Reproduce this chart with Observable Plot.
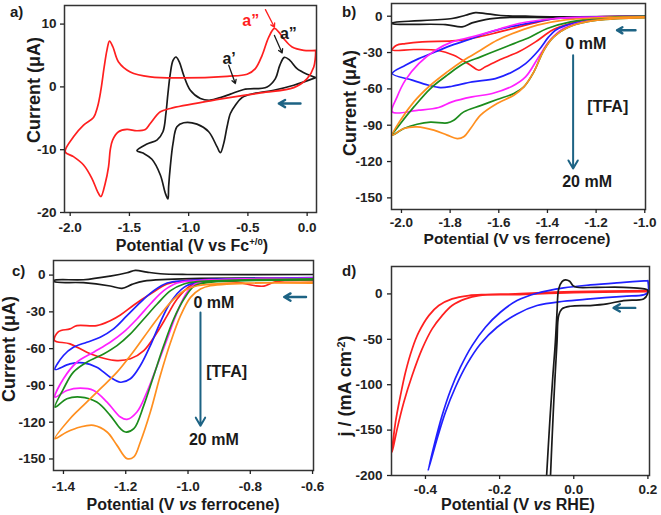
<!DOCTYPE html>
<html>
<head>
<meta charset="utf-8">
<script src="https://cdn.jsdelivr.net/npm/d3@7"></script>
<script src="https://cdn.jsdelivr.net/npm/@observablehq/plot@0.6"></script>
<style>
  body { margin: 0; background: #fff; }
  #fig { position: relative; width: 661px; height: 515px; overflow: hidden; background: #fff; }
  #fig svg { position: absolute; overflow: visible; }
</style>
</head>
<body>
<div id="fig"></div>
<script>
// ---------- Panel a: CVs vs Fc+/0 (potential V, current µA) ----------
const aXTicks = [-2.0, -1.5, -1.0, -0.5, 0.0];
const aYTicks = [10, 0, -10, -20];
const aRed = [[0.073,5.82],[0.056,3.17],[0.0,1.32],[-0.113,-0.11],[-0.394,-0.95],[-0.817,-2.22],[-1.155,-3.44],[-1.239,-3.97],[-1.324,-5.82],[-1.366,-6.77],[-1.437,-6.98],[-1.521,-6.77],[-1.592,-7.14],[-1.642,-8.47],[-1.662,-10.05],[-1.676,-12.7],[-1.704,-15.34],[-1.741,-17.46],[-1.769,-16.67],[-1.817,-14.55],[-1.887,-12.43],[-1.972,-11.11],[-2.042,-10.32],[-1.972,-7.94],[-1.887,-6.08],[-1.803,-4.87],[-1.769,-3.17],[-1.741,-0.53],[-1.713,3.17],[-1.690,5.82],[-1.668,7.30],[-1.639,6.35],[-1.592,3.97],[-1.493,2.38],[-1.324,1.59],[-1.042,1.43],[-0.676,1.69],[-0.507,2.01],[-0.437,2.91],[-0.380,5.03],[-0.324,7.94],[-0.276,9.31],[-0.239,8.73],[-0.197,7.67],[-0.127,6.35],[-0.028,5.82],[0.073,5.82]];
const aBlack = [[0.073,1.48],[-0.113,0.26],[-0.282,-0.53],[-0.451,-1.06],[-0.549,-1.69],[-0.606,-2.91],[-0.648,-4.23],[-0.676,-6.35],[-0.704,-8.99],[-0.732,-10.48],[-0.761,-9.52],[-0.831,-7.14],[-0.930,-5.93],[-1.042,-5.71],[-1.099,-6.35],[-1.132,-8.99],[-1.155,-12.70],[-1.169,-15.87],[-1.175,-17.83],[-1.197,-16.93],[-1.239,-14.02],[-1.310,-11.53],[-1.380,-10.58],[-1.437,-10.16],[-1.352,-9.10],[-1.268,-8.47],[-1.217,-7.14],[-1.192,-4.23],[-1.175,-1.06],[-1.155,2.12],[-1.132,4.23],[-1.107,4.76],[-1.079,3.97],[-1.042,1.85],[-0.986,-0.53],[-0.901,-1.85],[-0.817,-2.12],[-0.732,-1.69],[-0.648,-1.16],[-0.535,-0.42],[-0.338,0.0],[-0.268,1.32],[-0.231,3.44],[-0.192,4.71],[-0.146,4.23],[-0.085,2.91],[0.0,2.01],[0.073,1.48]];
const aArrows = [
  {x1: -0.056, y1: -2.65, x2: -0.239, y2: -2.65, color: "#1d6384", w: 2.4, head: 6},
  {x1: -0.662, y1: 3.44, x2: -0.606, y2: 0.53, color: "#1a1a1a", w: 1.3, head: 5},
  {x1: -0.276, y1: 8.2, x2: -0.211, y2: 5.4, color: "#1a1a1a", w: 1.3, head: 5},
  {x1: -0.352, y1: 12.3, x2: -0.276, y2: 9.5, color: "#ff1f1f", w: 1.3, head: 5}
];
const aNotes = [
  {x: -0.476, y: 10.58, label: "a”", color: "#ff1f1f", size: 16},
  {x: -0.158, y: 8.47, label: "a”", color: "#1a1a1a", size: 16},
  {x: -0.659, y: 4.5, label: "a’", color: "#1a1a1a", size: 16}
];

// ---------- Panel b: CVs with added TFA (-2.04 to -1.0 V) ----------
const bXTicks = [-2.0, -1.8, -1.6, -1.4, -1.2, -1.0];
const bYTicks = [0, -30, -60, -90, -120, -150];
const bBlack = [[-0.997,-0.55],[-1.367,-1.1],[-1.573,-1.1],[-1.655,-2.75],[-1.710,-5.5],[-1.751,-8.8],[-1.819,-6.9],[-2.038,-6.05],[-2.038,-5.5],[-1.792,-1.9],[-1.737,0.8],[-1.696,3.0],[-1.655,2.2],[-1.600,0.8],[-1.490,0],[-1.367,-0.55],[-0.997,0]];
const bRed = [[-0.997,-0.6],[-1.25,-3.5],[-1.33,-7.5],[-1.381,-11.6],[-1.449,-21.2],[-1.518,-29.4],[-1.6,-36.3],[-1.655,-41.8],[-1.682,-44.6],[-1.716,-40.5],[-1.785,-32.2],[-1.853,-28.1],[-1.949,-27.5],[-2.038,-27.8],[-2.02,-24],[-1.984,-22.6],[-1.915,-21.2],[-1.792,-20.4],[-1.737,-19.3],[-1.682,-17.1],[-1.614,-13.8],[-1.518,-8.8],[-1.436,-4.7],[-1.367,-1.9],[-1.2,-0.5],[-0.997,0]];
const bBlue = [[-0.997,-0.6],[-1.25,-4],[-1.33,-8],[-1.367,-11.6],[-1.395,-17.1],[-1.436,-28.1],[-1.490,-39.1],[-1.545,-46],[-1.614,-51.5],[-1.710,-54.2],[-1.792,-57.8],[-1.840,-58.9],[-1.888,-57.0],[-1.956,-52.8],[-2.038,-47.3],[-1.984,-40.5],[-1.929,-35.0],[-1.860,-29.4],[-1.792,-23.9],[-1.710,-18.4],[-1.655,-14.3],[-1.586,-10.2],[-1.518,-7.4],[-1.449,-4.7],[-1.367,-1.9],[-1.2,-0.6],[-0.997,0]];
const bMagenta = [[-0.997,-0.6],[-1.223,-3.3],[-1.333,-10],[-1.39,-20],[-1.436,-33.6],[-1.49,-50.1],[-1.545,-57.8],[-1.627,-63.8],[-1.710,-66.6],[-1.792,-70.7],[-1.847,-75.4],[-1.929,-77.6],[-2.038,-79.0],[-2.018,-66.6],[-1.984,-52.8],[-1.929,-39.1],[-1.860,-28.1],[-1.792,-21.2],[-1.710,-17.1],[-1.614,-11.6],[-1.518,-6.05],[-1.367,-1.9],[-1.2,-0.8],[-0.997,0]];
const bGreen = [[-0.997,-1.1],[-1.196,-3.3],[-1.305,-8.3],[-1.374,-17.1],[-1.415,-28.1],[-1.456,-46.0],[-1.497,-58.3],[-1.538,-63.8],[-1.607,-68.8],[-1.675,-73.8],[-1.744,-79.0],[-1.785,-85.9],[-1.812,-88.1],[-1.881,-87.5],[-1.936,-89.2],[-1.990,-92.7],[-2.038,-98.2],[-2.004,-88.6],[-1.949,-74.9],[-1.881,-59.7],[-1.812,-48.7],[-1.744,-39.1],[-1.675,-33.6],[-1.607,-28.1],[-1.538,-22.6],[-1.470,-17.1],[-1.401,-10.2],[-1.305,-4.7],[-1.15,-1],[-0.997,0]];
const bOrange = [[-0.997,-1.1],[-1.196,-3.3],[-1.305,-8.3],[-1.374,-17.1],[-1.415,-28.1],[-1.456,-46.0],[-1.497,-58.3],[-1.538,-65.2],[-1.607,-72.1],[-1.675,-81.7],[-1.716,-92.7],[-1.744,-99.6],[-1.771,-101],[-1.812,-98.2],[-1.867,-94.1],[-1.936,-91.4],[-1.990,-92.7],[-2.038,-98.2],[-2.004,-85.9],[-1.949,-70.7],[-1.881,-57.0],[-1.812,-46.0],[-1.744,-36.3],[-1.675,-28.1],[-1.607,-19.8],[-1.525,-12.9],[-1.442,-7.4],[-1.333,-3.3],[-1.15,-1],[-0.997,-0.5]];
const bArrows = [
  {x1: -1.038, y1: -11.6, x2: -1.114, y2: -11.6, color: "#1d6384", w: 2.4, head: 6},
  {x1: -1.2945, y1: -32.2, x2: -1.2945, y2: -125.8, color: "#1d6384", w: 2, head: 7}
];
const bNotes = [
  {x: -1.2425, y: -22.6, label: "0 mM", color: "#1a1a1a", size: 16},
  {x: -1.152, y: -74.9, label: "[TFA]", color: "#1a1a1a", size: 16},
  {x: -1.237, y: -136.5, label: "20 mM", color: "#1a1a1a", size: 16}
];

// ---------- Panel c: CVs with added TFA (-1.43 to -0.6 V) ----------
const cXTicks = [-1.4, -1.2, -1.0, -0.8, -0.6];
const cYTicks = [0, -30, -60, -90, -120, -150];
const cBlack = [[-0.6,-2.7],[-0.96,-2.7],[-1.067,-3.5],[-1.142,-4.9],[-1.180,-7.6],[-1.212,-10.8],[-1.250,-8.9],[-1.336,-6.2],[-1.429,-5.4],[-1.429,-4.3],[-1.336,-3.8],[-1.250,-0.8],[-1.196,1.9],[-1.169,3.8],[-1.132,2.4],[-1.089,1.1],[-1.003,0.5],[-0.6,0.5]];
const cRed = [[-0.6,-4.5],[-0.72,-5.5],[-0.756,-9.0],[-0.788,-8.5],[-0.852,-5.5],[-0.96,-6.0],[-0.992,-8.7],[-1.035,-19.5],[-1.067,-33.1],[-1.099,-46.6],[-1.142,-61.6],[-1.185,-68.3],[-1.228,-69.7],[-1.271,-67.8],[-1.325,-62.9],[-1.379,-56.1],[-1.429,-53.2],[-1.416,-46.1],[-1.379,-43.9],[-1.357,-41.2],[-1.293,-41.2],[-1.250,-37.2],[-1.217,-32.5],[-1.174,-24.4],[-1.121,-15.5],[-1.067,-7.3],[-1.013,-4.6],[-0.96,-3.8],[-0.6,-3.0]];
const cBlue = [[-0.6,-3.0],[-0.970,-6.0],[-1.013,-10.0],[-1.056,-22.2],[-1.089,-38.5],[-1.121,-57.5],[-1.153,-73.8],[-1.185,-84.6],[-1.217,-87.4],[-1.250,-83.3],[-1.293,-75.1],[-1.336,-71.6],[-1.379,-72.4],[-1.427,-77.0],[-1.400,-65.6],[-1.368,-58.9],[-1.325,-54.8],[-1.282,-50.7],[-1.239,-43.9],[-1.196,-33.1],[-1.153,-22.2],[-1.110,-12.7],[-1.067,-6.5],[-1.013,-4.6],[-0.6,-2.0]];
const cMagenta = [[-0.6,-3.5],[-0.970,-6.5],[-1.003,-14.1],[-1.035,-30.4],[-1.067,-52.1],[-1.099,-73.8],[-1.132,-95.5],[-1.164,-111.7],[-1.196,-117.7],[-1.217,-115.8],[-1.260,-103.6],[-1.303,-94.1],[-1.346,-92.2],[-1.389,-94.1],[-1.427,-99.5],[-1.400,-84.6],[-1.357,-71.1],[-1.303,-62.9],[-1.250,-54.8],[-1.207,-46.6],[-1.164,-35.8],[-1.121,-23.6],[-1.078,-12.7],[-1.035,-6.5],[-0.981,-4.6],[-0.6,-2.5]];
const cGreen = [[-0.6,-4.0],[-0.949,-6.5],[-0.981,-9.2],[-1.013,-19.5],[-1.046,-35.8],[-1.078,-57.5],[-1.110,-81.9],[-1.142,-106.3],[-1.174,-125.3],[-1.201,-128.0],[-1.217,-125.3],[-1.250,-114.4],[-1.293,-103.6],[-1.346,-99.5],[-1.389,-100.9],[-1.427,-107.7],[-1.400,-92.8],[-1.368,-79.2],[-1.325,-71.1],[-1.271,-64.3],[-1.228,-57.5],[-1.185,-48.0],[-1.142,-35.8],[-1.099,-23.6],[-1.056,-12.7],[-1.013,-7.3],[-0.970,-5.4],[-0.6,-3.0]];
const cOrange = [[-0.6,-6.0],[-0.928,-8.7],[-0.960,-11.4],[-0.992,-18.2],[-1.024,-33.1],[-1.056,-54.8],[-1.089,-81.9],[-1.121,-111.7],[-1.153,-136.1],[-1.174,-148.3],[-1.196,-149.7],[-1.228,-138.9],[-1.260,-128.0],[-1.303,-122.6],[-1.346,-123.9],[-1.389,-128.0],[-1.427,-133.4],[-1.379,-117.2],[-1.336,-106.3],[-1.282,-92.8],[-1.228,-79.2],[-1.185,-65.6],[-1.142,-50.7],[-1.099,-35.8],[-1.056,-22.2],[-1.013,-12.7],[-0.970,-8.7],[-0.6,-6.5]];
const cArrows = [
  {x1: -0.621, y1: -17.9, x2: -0.691, y2: -17.9, color: "#1d6384", w: 2.4, head: 6},
  {x1: -0.960, y1: -30.6, x2: -0.960, y2: -122.9, color: "#1d6384", w: 2, head: 7}
];
const cNotes = [
  {x: -0.917, y: -22.8, label: "0 mM", color: "#1a1a1a", size: 16},
  {x: -0.876, y: -78.6, label: "[TFA]", color: "#1a1a1a", size: 16},
  {x: -0.917, y: -134.5, label: "20 mM", color: "#1a1a1a", size: 16}
];

// ---------- Panel d: polarisation curves vs RHE (j, mA cm-2) ----------
const dXTicks = [-0.4, -0.2, 0.0, 0.2];
const dYTicks = [0, -50, -100, -150, -200];
const dRed = [[0.2,3.7],[0.0,2.5],[-0.1,1.2],[-0.1575,0],[-0.2383,-0.7],[-0.2832,-1.8],[-0.3281,-5.5],[-0.3641,-12.8],[-0.3910,-23.9],[-0.4180,-42.2],[-0.4359,-60.6],[-0.4539,-86.2],[-0.4674,-111.9],[-0.4808,-141.3],[-0.4898,-174.3],[-0.4763,-148.6],[-0.4584,-119.3],[-0.4359,-89.9],[-0.4090,-60.6],[-0.3820,-38.5],[-0.3551,-23.9],[-0.3281,-12.8],[-0.2922,-5.5],[-0.2563,-1.8],[-0.1575,-0.7],[0.0,1.5],[0.2,2.5]];
const dBlue = [[0.2,14.7],[0.1344,12.8],[0.0446,9.9],[-0.0272,6.6],[-0.0991,0.7],[-0.1530,-7.3],[-0.1979,-20.2],[-0.2383,-36.7],[-0.2742,-56.9],[-0.3057,-80.7],[-0.3326,-106.4],[-0.3551,-134.0],[-0.3757,-165.2],[-0.3928,-194.5],[-0.3686,-159.6],[-0.3461,-130.3],[-0.3192,-102.8],[-0.2877,-77.1],[-0.2518,-55.1],[-0.2069,-36.7],[-0.1530,-22.0],[-0.0991,-12.8],[-0.0272,-8.1],[0.0446,-5.5],[0.1344,-2.6],[0.188,-1.1],[0.2,1.8],[0.2,14.7]];
const dBlack = [[-0.0739,-205],[-0.0650,-143.1],[-0.0560,-88.1],[-0.0497,-53.2],[-0.0452,-20.2],[-0.0407,5.5],[-0.0317,13.6],[-0.0227,15.4],[-0.0111,13.9],[-0.0021,9.2],[0.0087,7.3],[0.0626,7.3],[0.1344,7.3],[0.1794,6.2],[0.1991,4.4],[0.1991,0],[0.1883,-5.5],[0.1344,-7.3],[0.0895,-11.0],[0.0446,-12.8],[-0.0093,-13.6],[-0.0317,-16.5],[-0.0407,-23.9],[-0.0452,-53.2],[-0.0524,-106.4],[-0.0587,-161.5],[-0.0632,-205]];
const dArrows = [
  {x1: 0.1659, y1: -15.4, x2: 0.1075, y2: -15.4, color: "#1d6384", w: 2.4, head: 6}
];

const RED = "#ff1f1f", BLUE = "#2020ff", MAGENTA = "#ff20ff", GREEN = "#1c8c1c", ORANGE = "#ff8f1f", BLACK = "#1a1a1a";
const FONT = '"Liberation Sans", Arial, Helvetica, sans-serif';
const fig = document.getElementById("fig");

function panel(cfg) {
  const marks = [
    ...cfg.curves.map(([pts, color]) => Plot.line(pts, {
      x: d => d[0], y: d => d[1], stroke: color, strokeWidth: 1.7,
      curve: "catmull-rom", clip: true
    })),
    ...cfg.arrows.map(a => Plot.arrow([a], {
      x1: "x1", y1: "y1", x2: "x2", y2: "y2",
      stroke: a.color, strokeWidth: a.w, headLength: a.head
    })),
    ...cfg.notes.map(n => Plot.text([n], {
      x: "x", y: "y", text: "label", fill: n.color, fontSize: n.size,
      fontWeight: "bold", fontFamily: FONT
    })),
    Plot.frame({stroke: "#333", strokeWidth: 1.5}),
    Plot.axisX({ticks: cfg.xTicks, tickFormat: d => d.toFixed(1), tickSize: 4,
      tickPadding: cfg.xPad, label: null, strokeWidth: 1.3}),
    Plot.axisY({ticks: cfg.yTicks, tickFormat: d => String(d), tickSize: 4,
      tickPadding: cfg.yPad, label: null, strokeWidth: 1.3})
  ];
  const svg = Plot.plot({
    width: cfg.width, height: cfg.height,
    marginLeft: cfg.m[0], marginTop: cfg.m[1], marginRight: cfg.m[2], marginBottom: cfg.m[3],
    x: {domain: cfg.xDomain},
    y: {domain: cfg.yDomain},
    style: {fontFamily: FONT, fontSize: "13.5px", fontWeight: "bold", color: "#222", background: "transparent"},
    marks
  });
  svg.style.left = cfg.left + "px";
  svg.style.top = cfg.top + "px";
  fig.appendChild(svg);

  // axis titles and panel letter, with superscripts and italics
  const sel = d3.select(svg);
  for (const t of cfg.titles) {
    const text = sel.append("text")
      .attr("transform", `translate(${t.x},${t.y}) rotate(${t.rot || 0})`)
      .attr("text-anchor", t.anchor || "middle")
      .attr("font-family", FONT).attr("font-weight", "bold")
      .attr("font-size", t.size).attr("fill", "#1a1a1a");
    let shift = 0;
    for (const p of t.parts) {
      const s = text.append("tspan").text(p.t);
      if (p.i) s.attr("font-style", "italic");
      if (p.sup) {
        s.attr("font-size", t.size * 0.6).attr("dy", -t.size * 0.36 - shift);
        shift = -t.size * 0.36;
      } else if (shift !== 0) {
        s.attr("dy", -shift);
        shift = 0;
      }
    }
  }
}

panel({
  left: 0, top: 0, width: 330, height: 257, m: [64, 5, 14, 45],
  xDomain: [-2.048, 0.079], yDomain: [-20, 12.96],
  xTicks: aXTicks, yTicks: aYTicks, xPad: 6, yPad: 4,
  curves: [[aBlack, BLACK], [aRed, RED]],
  arrows: aArrows, notes: aNotes,
  titles: [
    {x: 10, y: 17, size: 15, anchor: "start", parts: [{t: "a)"}]},
    {x: 40, y: 90, rot: -90, size: 18, parts: [{t: "Current (μA)"}]},
    {x: 192, y: 251, size: 16, parts: [{t: "Potential (V vs Fc"}, {t: "+/0", sup: true}, {t: ")"}]}
  ]
});

panel({
  left: 330, top: 0, width: 331, height: 257, m: [61, 3, 16, 48],
  xDomain: [-2.041, -0.997], yDomain: [-159.6, 10.5],
  xTicks: bXTicks, yTicks: bYTicks, xPad: 4, yPad: 5,
  curves: [[bBlack, BLACK], [bRed, RED], [bBlue, BLUE], [bMagenta, MAGENTA], [bGreen, GREEN], [bOrange, ORANGE]],
  arrows: bArrows, notes: bNotes,
  titles: [
    {x: 12, y: 17, size: 15, anchor: "start", parts: [{t: "b)"}]},
    {x: 26, y: 103, rot: -90, size: 18, parts: [{t: "Current (μA)"}]},
    {x: 187, y: 244, size: 15.5, parts: [{t: "Potential (V vs ferrocene)"}]}
  ]
});

panel({
  left: 0, top: 257, width: 330, height: 258, m: [53, 3, 17, 45],
  xDomain: [-1.432, -0.597], yDomain: [-159.4, 11.9],
  xTicks: cXTicks, yTicks: cYTicks, xPad: 7, yPad: 4,
  curves: [[cBlack, BLACK], [cRed, RED], [cBlue, BLUE], [cMagenta, MAGENTA], [cGreen, GREEN], [cOrange, ORANGE]],
  arrows: cArrows, notes: cNotes,
  titles: [
    {x: 12, y: 19, size: 15, anchor: "start", parts: [{t: "c)"}]},
    {x: 15, y: 92, rot: -90, size: 18, parts: [{t: "Current (μA)"}]},
    {x: 183, y: 253, size: 16, parts: [{t: "Potential (V "}, {t: "vs", i: true}, {t: " ferrocene)"}]}
  ]
});

panel({
  left: 330, top: 257, width: 331, height: 258, m: [61, 9, 12, 40],
  xDomain: [-0.4916, 0.2043], yDomain: [-200, 30.2],
  xTicks: dXTicks, yTicks: dYTicks, xPad: 5, yPad: 5,
  curves: [[dRed, RED], [dBlue, BLUE], [dBlack, BLACK]],
  arrows: dArrows, notes: [],
  titles: [
    {x: 12, y: 19, size: 15, anchor: "start", parts: [{t: "d)"}]},
    {x: 21, y: 129, rot: -90, size: 18, parts: [{t: "j / (mA cm"}, {t: "-2", sup: true}, {t: ")"}]},
    {x: 188, y: 253, size: 16, parts: [{t: "Potential (V "}, {t: "vs", i: true}, {t: " RHE)"}]}
  ]
});
</script>
</body>
</html>
